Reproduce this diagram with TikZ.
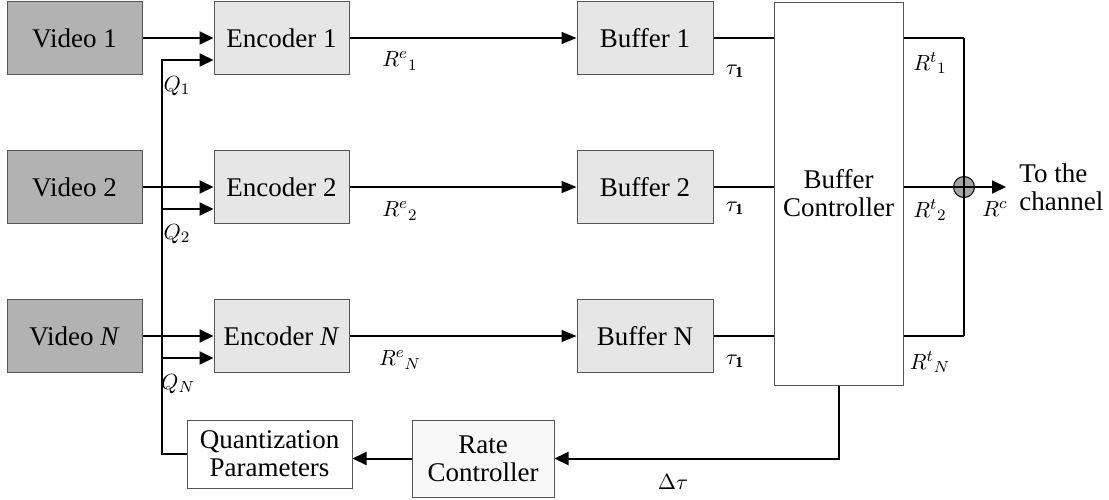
\documentclass[tikz,border=0pt]{standalone}
\usepackage{fontspec}
\setmainfont{Liberation Serif}
\usepackage{tikz}
\usetikzlibrary{arrows.meta,positioning,shapes,calc}
\usepackage{amsmath,amssymb}
\usepackage{xcolor}
\definecolor{videogray}{RGB}{178,178,178}
\definecolor{codegray}{RGB}{230,230,230}
\definecolor{ratefill}{RGB}{248,248,248}
\definecolor{bordergray}{RGB}{85,85,85}
\definecolor{sumgray}{RGB}{165,165,165}
\newcommand{\boxfont}{\fontsize{13.5}{14}\selectfont}
\newcommand{\lblfont}{\fontsize{11}{12}\selectfont}

\begin{document}
\begin{tikzpicture}[x=0.5pt,y=-0.5pt,
    blockbox/.style={draw=bordergray,line width=0.5pt,minimum width=67.5pt,minimum height=36.5pt,inner sep=0pt,font=\boxfont},
    videobox/.style={blockbox,fill=videogray},
    codebox/.style={blockbox,fill=codegray},
    arr/.style={line width=1pt,-{Triangle[length=7pt,width=6.5pt]}},
    thinarr/.style={line width=0.7pt,-{Triangle[length=7.5pt,width=6pt]}},
    link/.style={line width=0.7pt},
    lbl/.style={font=\lblfont,inner sep=0pt}]
    \useasboundingbox (0,0) rectangle (1109,499);
    % sources and encoders
    \node[videobox] (v1) at (74.5,38) {Video 1};
    \node[videobox] (v2) at (74.5,187) {Video 2};
    \node[videobox] (vn) at (74.5,336) {Video \textit{N}};
    \node[codebox] (e1) at (281.5,38) {Encoder 1};
    \node[codebox] (e2) at (281.5,187) {Encoder 2};
    \node[codebox] (en) at (281.5,336) {Encoder \textit{N}};
    % buffers
    \node[codebox,minimum width=68pt] (b1) at (645,38) {Buffer 1};
    \node[codebox,minimum width=68pt] (b2) at (645,187) {Buffer 2};
    \node[codebox,minimum width=68pt] (bn) at (645,336) {Buffer N};
    \node[blockbox,fill=white,minimum width=64.5pt,minimum height=191.5pt,align=center] (bc) at (838.5,193.5) {Buffer\\Controller};
    % feedback loop
    \node[blockbox,fill=white,minimum width=82.5pt,minimum height=34pt,align=center] (qp) at (269.5,454) {Quantization\\Parameters};
    \node[blockbox,fill=ratefill,minimum width=71pt,minimum height=38.5pt,align=center] (rc) at (483,458.5) {Rate\\Controller};
    \node[circle,draw=black,fill=sumgray,line width=0.5pt,minimum size=10.5pt,inner sep=0pt] (sum) at (964,187) {};

    \coordinate (q1) at (162,60);
    \coordinate (q2) at (162,209);
    \coordinate (qn) at (162,358);
    \coordinate (c1) at (964,38);
    \coordinate (cn) at (964,336);
    \coordinate (out) at (1006,187);

    \draw[arr] (v1) -- (e1);
    \draw[arr] (v2) -- (e2);
    \draw[arr] (vn) -- (en);
    \draw[arr] (qp.west) -| (q1) -- (q1 -| e1.west);
    \draw[arr] (q2) -- (q2 -| e2.west);
    \draw[arr] (qn) -- (qn -| en.west);
    \draw[thinarr] (e1) -- (b1);
    \draw[thinarr] (e2) -- (b2);
    \draw[thinarr] (en) -- (bn);
    \draw[link] (b1) -- (bc.west |- b1);
    \draw[link] (b2) -- (bc.west |- b2);
    \draw[link] (bn) -- (bc.west |- bn);
    % outputs to the channel
    \draw[link] (bc.east |- b1) -- (c1);
    \draw[link] (bc.east |- bn) -- (cn);
    \draw[line width=1pt] (c1) -- (cn);
    \draw[link] (bc.east |- b2) -- (sum.center);
    \draw[arr] (sum.center) -- (out);
    \draw[arr] (bc.south) |- (rc);
    \draw[arr] (rc.west) -- (rc.west -| qp.east);

    % labels
    \node[lbl] (lq1) at (177,86) {$Q_{1}$};
    \node[lbl] (lq2) at (177,234) {$Q_{2}$};
    \node[lbl] (lqn) at (178,384) {$Q_{N}$};
    \node[lbl] (lre1) at (400,61) {${R^{e}}_{1}$};
    \node[lbl] (lre2) at (400,211) {${R^{e}}_{2}$};
    \node[lbl] (lren) at (400,360) {${R^{e}}_{N}$};
    \node[lbl] (lt1) at (735,71) {$\tau_{\mathbf{1}}$};
    \node[lbl] (lt2) at (735,208) {$\tau_{\mathbf{1}}$};
    \node[lbl] (ltn) at (735,361) {$\tau_{\mathbf{1}}$};
    \node[lbl] (lrt1) at (930,63) {${R^{t}}_{1}$};
    \node[lbl] (lrt2) at (930,210) {${R^{t}}_{2}$};
    \node[lbl] (lrtn) at (930,362) {${R^{t}}_{N}$};
    \node[lbl] (lrc) at (995,209) {$R^{c}$};
    \node[lbl] (ldt) at (673,482) {$\Delta\tau$};
    \node[anchor=west,align=left,font=\boxfont,inner sep=0pt] (chan) at (1019,187) {To the\\channel};
\end{tikzpicture}
\end{document}
